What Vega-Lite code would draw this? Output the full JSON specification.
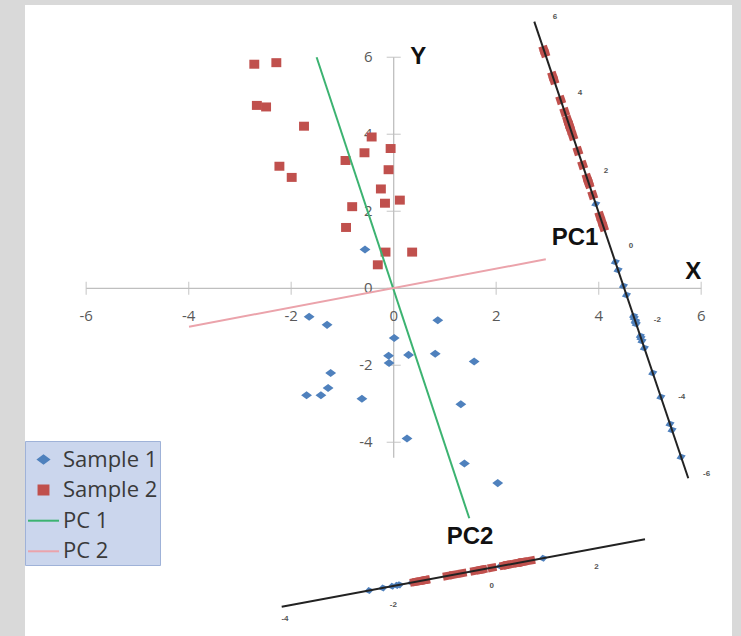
{
  "$schema": "https://vega.github.io/schema/vega-lite/v6.json",
  "width": 707,
  "height": 631,
  "autosize": {"type": "none"},
  "padding": {"left": 25, "top": 5, "right": 9, "bottom": 0},
  "background": "#d9d9d9",
  "config": {"view": {"fill": "white", "stroke": null}},
  "datasets": {
    "axisLines": [
      {"x": -6, "y": 0, "x2": 6, "y2": 0},
      {"x": 0, "y": -4.4, "x2": 0, "y2": 6}
    ],
    "xTicks": [
      {"x": -6, "y": 0, "label": "-6"}, {"x": -4, "y": 0, "label": "-4"}, {"x": -2, "y": 0, "label": "-2"},
      {"x": 0, "y": 0, "label": "0"}, {"x": 2, "y": 0, "label": "2"}, {"x": 4, "y": 0, "label": "4"}, {"x": 6, "y": 0, "label": "6"}
    ],
    "yTicks": [
      {"x": 0, "y": -4, "label": "-4"}, {"x": 0, "y": -2, "label": "-2"}, {"x": 0, "y": 0, "label": "0"},
      {"x": 0, "y": 2, "label": "2"}, {"x": 0, "y": 4, "label": "4"}, {"x": 0, "y": 6, "label": "6"}
    ],
    "scatter": [
      {"series": "Sample 1", "x": -0.56, "y": 1.01},
      {"series": "Sample 1", "x": -1.65, "y": -0.74},
      {"series": "Sample 1", "x": -1.30, "y": -0.95},
      {"series": "Sample 1", "x": 0.86, "y": -0.83},
      {"series": "Sample 1", "x": 0.01, "y": -1.29},
      {"series": "Sample 1", "x": -0.10, "y": -1.75},
      {"series": "Sample 1", "x": -0.09, "y": -1.94},
      {"series": "Sample 1", "x": 0.29, "y": -1.73},
      {"series": "Sample 1", "x": 0.81, "y": -1.70},
      {"series": "Sample 1", "x": 1.57, "y": -1.90},
      {"series": "Sample 1", "x": -1.23, "y": -2.20},
      {"series": "Sample 1", "x": -1.28, "y": -2.59},
      {"series": "Sample 1", "x": -1.70, "y": -2.78},
      {"series": "Sample 1", "x": -1.42, "y": -2.78},
      {"series": "Sample 1", "x": -0.62, "y": -2.87},
      {"series": "Sample 1", "x": 1.31, "y": -3.01},
      {"series": "Sample 1", "x": 0.26, "y": -3.90},
      {"series": "Sample 1", "x": 1.38, "y": -4.55},
      {"series": "Sample 1", "x": 2.03, "y": -5.06},
      {"series": "Sample 2", "x": -2.72, "y": 5.82},
      {"series": "Sample 2", "x": -2.29, "y": 5.86},
      {"series": "Sample 2", "x": -2.67, "y": 4.75},
      {"series": "Sample 2", "x": -2.49, "y": 4.71},
      {"series": "Sample 2", "x": -1.75, "y": 4.21},
      {"series": "Sample 2", "x": -0.43, "y": 3.93},
      {"series": "Sample 2", "x": -0.06, "y": 3.63},
      {"series": "Sample 2", "x": -0.57, "y": 3.52},
      {"series": "Sample 2", "x": -0.94, "y": 3.32},
      {"series": "Sample 2", "x": -2.23, "y": 3.17},
      {"series": "Sample 2", "x": -1.99, "y": 2.88},
      {"series": "Sample 2", "x": -0.10, "y": 3.08},
      {"series": "Sample 2", "x": -0.25, "y": 2.58},
      {"series": "Sample 2", "x": 0.12, "y": 2.29},
      {"series": "Sample 2", "x": -0.17, "y": 2.21},
      {"series": "Sample 2", "x": -0.81, "y": 2.12},
      {"series": "Sample 2", "x": -0.93, "y": 1.58},
      {"series": "Sample 2", "x": -0.16, "y": 0.94},
      {"series": "Sample 2", "x": 0.36, "y": 0.94},
      {"series": "Sample 2", "x": -0.31, "y": 0.61}
    ],
    "pcLines": [
      {"series": "PC 1", "x": -1.504, "y": 6.0, "x2": 1.475, "y2": -5.974},
      {"series": "PC 2", "x": -3.994, "y": -0.997, "x2": 2.968, "y2": 0.753}
    ],
    "projRight": [
      {"series": "Sample 2", "x": 2.930, "y": 6.190},
      {"series": "Sample 2", "x": 2.950, "y": 6.112},
      {"series": "Sample 2", "x": 3.101, "y": 5.514},
      {"series": "Sample 2", "x": 3.127, "y": 5.410},
      {"series": "Sample 2", "x": 3.259, "y": 4.891},
      {"series": "Sample 2", "x": 3.338, "y": 4.579},
      {"series": "Sample 2", "x": 3.390, "y": 4.371},
      {"series": "Sample 2", "x": 3.417, "y": 4.268},
      {"series": "Sample 2", "x": 3.430, "y": 4.216},
      {"series": "Sample 2", "x": 3.456, "y": 4.112},
      {"series": "Sample 2", "x": 3.496, "y": 3.956},
      {"series": "Sample 2", "x": 3.594, "y": 3.566},
      {"series": "Sample 2", "x": 3.687, "y": 3.203},
      {"series": "Sample 2", "x": 3.772, "y": 2.865},
      {"series": "Sample 2", "x": 3.798, "y": 2.761},
      {"series": "Sample 2", "x": 3.812, "y": 2.709},
      {"series": "Sample 2", "x": 3.884, "y": 2.423},
      {"series": "Sample 2", "x": 4.022, "y": 1.878},
      {"series": "Sample 2", "x": 4.062, "y": 1.722},
      {"series": "Sample 2", "x": 4.095, "y": 1.592},
      {"series": "Sample 1", "x": 3.943, "y": 2.190},
      {"series": "Sample 1", "x": 4.325, "y": 0.683},
      {"series": "Sample 1", "x": 4.378, "y": 0.475},
      {"series": "Sample 1", "x": 4.483, "y": 0.060},
      {"series": "Sample 1", "x": 4.542, "y": -0.174},
      {"series": "Sample 1", "x": 4.680, "y": -0.719},
      {"series": "Sample 1", "x": 4.694, "y": -0.771},
      {"series": "Sample 1", "x": 4.713, "y": -0.849},
      {"series": "Sample 1", "x": 4.720, "y": -0.875},
      {"series": "Sample 1", "x": 4.733, "y": -0.927},
      {"series": "Sample 1", "x": 4.812, "y": -1.239},
      {"series": "Sample 1", "x": 4.825, "y": -1.291},
      {"series": "Sample 1", "x": 4.845, "y": -1.369},
      {"series": "Sample 1", "x": 4.891, "y": -1.551},
      {"series": "Sample 1", "x": 5.055, "y": -2.200},
      {"series": "Sample 1", "x": 5.213, "y": -2.823},
      {"series": "Sample 1", "x": 5.391, "y": -3.525},
      {"series": "Sample 1", "x": 5.431, "y": -3.681},
      {"series": "Sample 1", "x": 5.608, "y": -4.382}
    ],
    "projBottom": [
      {"series": "Sample 1", "x": 1.549, "y": -7.348},
      {"series": "Sample 1", "x": 0.061, "y": -7.716},
      {"series": "Sample 1", "x": 0.353, "y": -7.644},
      {"series": "Sample 1", "x": 2.483, "y": -7.118},
      {"series": "Sample 1", "x": 1.560, "y": -7.345},
      {"series": "Sample 1", "x": 1.327, "y": -7.403},
      {"series": "Sample 1", "x": 1.287, "y": -7.413},
      {"series": "Sample 1", "x": 1.709, "y": -7.309},
      {"series": "Sample 1", "x": 2.222, "y": -7.182},
      {"series": "Sample 1", "x": 2.915, "y": -7.011},
      {"series": "Sample 1", "x": 0.111, "y": -7.703},
      {"series": "Sample 1", "x": -0.029, "y": -7.738},
      {"series": "Sample 1", "x": -0.481, "y": -7.850},
      {"series": "Sample 1", "x": -0.210, "y": -7.783},
      {"series": "Sample 1", "x": 0.544, "y": -7.596},
      {"series": "Sample 1", "x": 2.393, "y": -7.140},
      {"series": "Sample 1", "x": 1.147, "y": -7.448},
      {"series": "Sample 1", "x": 2.081, "y": -7.217},
      {"series": "Sample 1", "x": 2.594, "y": -7.090},
      {"series": "Sample 2", "x": 0.624, "y": -7.577},
      {"series": "Sample 2", "x": 1.046, "y": -7.472},
      {"series": "Sample 2", "x": 0.403, "y": -7.631},
      {"series": "Sample 2", "x": 0.574, "y": -7.589},
      {"series": "Sample 2", "x": 1.177, "y": -7.440},
      {"series": "Sample 2", "x": 2.393, "y": -7.140},
      {"series": "Sample 2", "x": 2.674, "y": -7.071},
      {"series": "Sample 2", "x": 2.152, "y": -7.200},
      {"series": "Sample 2", "x": 1.739, "y": -7.301},
      {"series": "Sample 2", "x": 0.453, "y": -7.619},
      {"series": "Sample 2", "x": 0.614, "y": -7.579},
      {"series": "Sample 2", "x": 2.503, "y": -7.113},
      {"series": "Sample 2", "x": 2.232, "y": -7.180},
      {"series": "Sample 2", "x": 2.523, "y": -7.108},
      {"series": "Sample 2", "x": 2.222, "y": -7.182},
      {"series": "Sample 2", "x": 1.579, "y": -7.341},
      {"series": "Sample 2", "x": 1.337, "y": -7.400},
      {"series": "Sample 2", "x": 1.920, "y": -7.257},
      {"series": "Sample 2", "x": 2.433, "y": -7.130},
      {"series": "Sample 2", "x": 1.699, "y": -7.311}
    ],
    "projLines": [
      {"x": 2.743, "y": 6.925, "x2": 5.748, "y2": -4.935},
      {"x": -2.185, "y": -8.270, "x2": 4.903, "y2": -6.519}
    ],
    "projLabels": [
      {"x": 3.147, "y": 7.055, "label": "6"},
      {"x": 3.635, "y": 5.065, "label": "4"},
      {"x": 4.142, "y": 3.047, "label": "2"},
      {"x": 4.630, "y": 1.099, "label": "0"},
      {"x": 5.143, "y": -0.823, "label": "-2"},
      {"x": 5.620, "y": -2.816, "label": "-4"},
      {"x": 6.107, "y": -4.823, "label": "-6"},
      {"x": 3.957, "y": -7.247, "label": "2"},
      {"x": 1.912, "y": -7.732, "label": "0"},
      {"x": -0.008, "y": -8.226, "label": "-2"},
      {"x": -2.121, "y": -8.597, "label": "-4"}
    ],
    "bigLabels": [
      {"x": 0.48, "y": 6.0, "label": "Y"},
      {"x": 5.846, "y": 0.431, "label": "X"},
      {"x": 3.538, "y": 1.294, "label": "PC1"},
      {"x": 1.489, "y": -6.452, "label": "PC2"}
    ]
  },
  "encoding": {
    "x": {"field": "x", "type": "quantitative", "scale": {"domain": [-7.194, 6.601], "nice": false, "zero": false}, "axis": null},
    "y": {"field": "y", "type": "quantitative", "scale": {"domain": [-9.031, 7.358], "nice": false, "zero": false}, "axis": null}
  },
  "layer": [
    {
      "data": {"name": "axisLines"},
      "mark": {"type": "rule", "color": "#bfbfbf", "strokeWidth": 1.3},
      "encoding": {"x2": {"field": "x2"}, "y2": {"field": "y2"}}
    },
    {
      "data": {"name": "xTicks"},
      "mark": {"type": "tick", "orient": "vertical", "color": "#bfbfbf", "size": 13, "thickness": 1.3}
    },
    {
      "data": {"name": "yTicks"},
      "mark": {"type": "tick", "orient": "horizontal", "color": "#bfbfbf", "size": 14, "thickness": 1.3}
    },
    {
      "data": {"name": "xTicks"},
      "mark": {"type": "text", "font": "Open Sans", "fontSize": 15, "color": "#595959", "align": "center", "baseline": "middle", "dy": 28},
      "encoding": {"text": {"field": "label"}}
    },
    {
      "data": {"name": "yTicks"},
      "mark": {"type": "text", "font": "Open Sans", "fontSize": 15, "color": "#595959", "align": "right", "baseline": "middle", "dx": -21},
      "encoding": {"text": {"field": "label"}}
    },
    {
      "data": {"name": "scatter"},
      "mark": {"type": "point", "filled": true, "opacity": 1, "size": 961},
      "encoding": {
        "color": {
          "field": "series", "type": "nominal",
          "scale": {"domain": ["Sample 1", "Sample 2", "PC 1", "PC 2"], "range": ["#4f81bd", "#c0504d", "#3cb371", "#eba3ab"]},
          "legend": {
            "title": null,
            "orient": "none",
            "legendX": 0,
            "legendY": 436,
            "direction": "vertical",
            "padding": 2,
            "rowPadding": 2.6,
            "symbolSize": 961,
            "symbolStrokeWidth": 2,
            "labelFont": "Open Sans",
            "labelFontSize": 22,
            "labelColor": "#3a3a3a",
            "labelOffset": 3,
            "labelLimit": 300,
            "fillColor": "#cbd6ed",
            "strokeColor": "#9fb2d8"
          }
        },
        "shape": {"field": "series", "type": "nominal", "scale": {"domain": ["Sample 1", "Sample 2", "PC 1", "PC 2"], "range": ["M-0.35,0L0,-0.26L0.35,0L0,0.26Z", "M-0.32,-0.29H0.32V0.29H-0.32Z", "M-1,0H1", "M-1,0H1"]}}
      }
    },
    {
      "data": {"name": "pcLines"},
      "mark": {"type": "rule", "strokeWidth": 2},
      "encoding": {
        "x2": {"field": "x2"}, "y2": {"field": "y2"},
        "color": {"field": "series", "type": "nominal", "scale": {"domain": ["Sample 1", "Sample 2", "PC 1", "PC 2"], "range": ["#4f81bd", "#c0504d", "#3cb371", "#eba3ab"]}}
      }
    },
    {
      "data": {"name": "projRight"},
      "mark": {"type": "point", "filled": true, "opacity": 1, "size": 760, "angle": 341.4},
      "encoding": {
        "color": {"field": "series", "type": "nominal", "scale": {"domain": ["Sample 1", "Sample 2", "PC 1", "PC 2"], "range": ["#4f81bd", "#c0504d", "#3cb371", "#eba3ab"]}},
        "shape": {"field": "series", "type": "nominal", "scale": {"domain": ["Sample 1", "Sample 2", "PC 1", "PC 2"], "range": ["M-0.35,0L0,-0.26L0.35,0L0,0.26Z", "M-0.32,-0.29H0.32V0.29H-0.32Z", "M-1,0H1", "M-1,0H1"]}}
      }
    },
    {
      "data": {"name": "projBottom"},
      "mark": {"type": "point", "filled": true, "opacity": 1, "size": 760, "angle": 349.5},
      "encoding": {
        "color": {"field": "series", "type": "nominal", "scale": {"domain": ["Sample 1", "Sample 2", "PC 1", "PC 2"], "range": ["#4f81bd", "#c0504d", "#3cb371", "#eba3ab"]}},
        "shape": {"field": "series", "type": "nominal", "scale": {"domain": ["Sample 1", "Sample 2", "PC 1", "PC 2"], "range": ["M-0.35,0L0,-0.26L0.35,0L0,0.26Z", "M-0.32,-0.29H0.32V0.29H-0.32Z", "M-1,0H1", "M-1,0H1"]}}
      }
    },
    {
      "data": {"name": "projLines"},
      "mark": {"type": "rule", "color": "#222222", "strokeWidth": 2},
      "encoding": {"x2": {"field": "x2"}, "y2": {"field": "y2"}}
    },
    {
      "data": {"name": "projLabels"},
      "mark": {"type": "text", "font": "Liberation Sans", "fontSize": 8, "fontWeight": "bold", "color": "#555555", "align": "center", "baseline": "middle"},
      "encoding": {"text": {"field": "label"}}
    },
    {
      "data": {"name": "bigLabels"},
      "mark": {"type": "text", "font": "Liberation Sans", "fontSize": 24, "fontWeight": "bold", "color": "#111111", "align": "center", "baseline": "middle"},
      "encoding": {"text": {"field": "label"}}
    }
  ]
}
